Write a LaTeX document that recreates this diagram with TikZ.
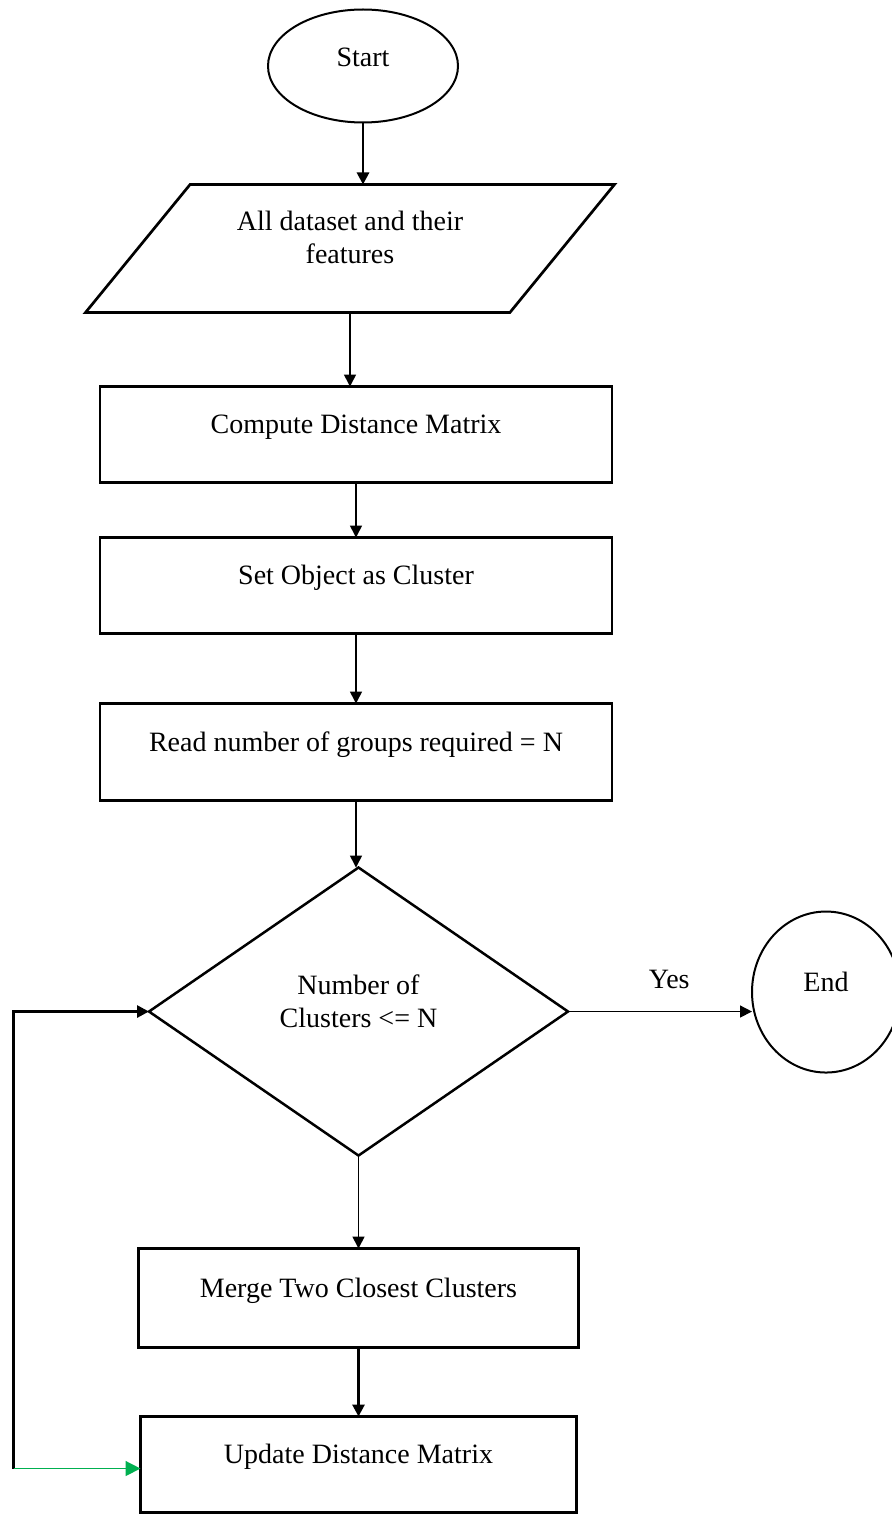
\documentclass[tikz,border=0pt]{standalone}
\usepackage{fontspec}
\setmainfont{Liberation Serif}
\usepackage{tikz}
\usetikzlibrary{arrows.meta,positioning,shapes.geometric}
\definecolor{loopgreen}{RGB}{0,176,80}

\begin{document}
\begin{tikzpicture}[
      font=\fontsize{14}{16.5}\selectfont,
      terminal/.style={draw,ellipse,line width=1pt,inner sep=0pt,outer sep=0pt,
                       text height=10pt,text depth=9pt},
      io/.style={draw,trapezium,trapezium left angle=40,trapezium right angle=140,
                 trapezium stretches body=true,line width=1.35pt,outer sep=0pt,
                 minimum width=264.5pt,minimum height=64pt,align=center},
      process/.style={draw,line width=1.35pt,minimum width=256pt,minimum height=48pt,
                      inner sep=0pt,outer sep=0pt,text height=10pt,text depth=11pt},
      decision/.style={draw,diamond,line width=1.25pt,minimum width=209.5pt,
                       minimum height=144pt,inner sep=0pt,outer sep=0pt,align=center},
      arrow/.style={-{Triangle[length=6pt,width=6pt]},line width=0.75pt},
      thickarrow/.style={arrow,line width=1.4pt}
  ]
    \useasboundingbox (0,0) rectangle (445.5pt,-757pt);

    \node[terminal,minimum width=95pt,minimum height=56.5pt] (start) at (181.5pt,-33pt) {Start};
    \node[io,below=31pt of start,xshift=-6.5pt] (data) {All dataset and their\\ features\\[-5.5pt]\mbox{}};
    \node[process,below=37pt of data,xshift=3pt] (dist) {Compute Distance Matrix};
    \node[process,below=27.5pt of dist] (init) {Set Object as Cluster};
    \node[process,below=35pt of init,minimum height=48.5pt] (read) {Read number of groups required = N};
    \node[decision,below=33.5pt of read,xshift=1.25pt] (dec) {Number of\\ Clusters <= N\\[-6pt]\mbox{}};
    \node[process,below=46.5pt of dec,minimum width=220pt,minimum height=49.5pt] (merge) {Merge Two Closest Clusters};
    \node[process,below=34.5pt of merge,minimum width=218pt] (upd) {Update Distance Matrix};

    \node[terminal,right=92pt of dec,yshift=9.75pt,minimum width=74pt,minimum height=80.5pt,
          text depth=11pt] (end) {End};
    \coordinate[left=63.5pt of upd.west,yshift=-2pt] (loop);

    \draw[thickarrow] (start.south) -- (start.south |- data.north);
    \draw[arrow] (data.south) -- (data.south |- dist.north);
    \draw[arrow] (dist.south) -- (init.north);
    \draw[arrow] (init.south) -- (read.north);
    \draw[arrow] (read.south) -- (read.south |- dec.north);
    \draw[arrow] (dec.east) -- (dec.east -| end.west)
        node[pos=0.55,above=7.5pt] (yes) {Yes};
    \draw[arrow] (dec.south) -- (dec.south |- merge.north);
    \draw[thickarrow] (merge.south) -- (merge.south |- upd.north);
    \draw[thickarrow] (loop) |- (dec.west);
    \draw[arrow,loopgreen,-{Triangle[length=7.5pt,width=7.5pt]}] (loop) -- (loop -| upd.west);
  \end{tikzpicture}
\end{document}
